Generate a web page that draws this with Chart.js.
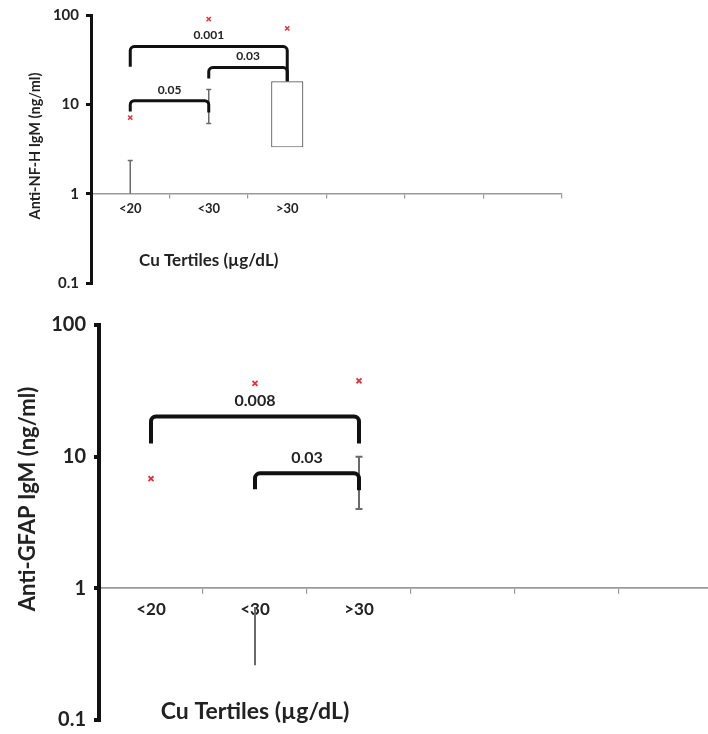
<!DOCTYPE html>
<html>
<head>
<meta charset="utf-8">
<script src="https://cdn.jsdelivr.net/npm/chart.js@4.4.1/dist/chart.umd.min.js"></script>
<style>
  html, body { margin: 0; padding: 0; background: #fff; overflow: hidden; width: 708px; height: 734px; }
  canvas.panel { position: absolute; left: 0; }
  #nfh { top: -10px; }
  #gfap { top: 300px; }
</style>
</head>
<body>
<canvas id="nfh" class="panel" width="600" height="310"></canvas>
<canvas id="gfap" class="panel" width="740" height="450"></canvas>
<script>
// Copper tertile groups (three empty slots follow on the axis)
const categories = ['<20', '<30', '>30', '', '', ''];
const yTicks = [0.1, 1, 10, 100];
const yTickLabels = ['0.1', '1', '10', '100'];
const xTitle = 'Cu Tertiles (µg/dL)';

// Anti-NF-H IgM (ng/ml)
const nfhMarkers = [7.1, 90, 71, null, null, null];
const nfhBoxLow = [null, null, 3.3, null, null, null];
const nfhBoxHigh = [null, null, 18.1, null, null, null];
const nfhWhiskerLow = [1, 6.1, null, null, null, null];
const nfhWhiskerHigh = [2.35, 14.7, null, null, null, null];
const nfhBracketFrom = [0, 1, 0];
const nfhBracketTo = [2, 2, 1];
const nfhBracketTop = [44.3, 25.8, 11];
const nfhBracketLeftEnd = [26.4, 19.4, 8.3];
const nfhBracketRightEnd = [18.1, 18.1, 8.1];
const nfhBracketLabels = ['0.001', '0.03', '0.05'];

// Anti-GFAP IgM (ng/ml)
const gfapMarkers = [6.8, 36, 37.7, null, null, null];
const gfapBoxLow = [null, null, null, null, null, null];
const gfapBoxHigh = [null, null, null, null, null, null];
const gfapWhiskerLow = [null, 0.26, 4.0, null, null, null];
const gfapWhiskerHigh = [null, 0.72, 10, null, null, null];
const gfapBracketFrom = [0, 1];
const gfapBracketTo = [2, 2];
const gfapBracketTop = [20.2, 7.47];
const gfapBracketLeftEnd = [12.6, 5.65];
const gfapBracketRightEnd = [12.6, 5.55];
const gfapBracketLabels = ['0.008', '0.03'];

const FAMILY = "Lato, 'Open Sans', 'DejaVu Sans', sans-serif";
const TEXT = '#222222';

// Whiskers, significance brackets and axis captions drawn on the chart's own scales
function makeExtras(cfg) {
  return {
    id: 'extras_' + cfg.name,
    afterDatasetsDraw(chart) {
      const ctx = chart.ctx;
      const xs = chart.scales.x, ys = chart.scales.y;
      const area = chart.chartArea;
      ctx.save();

      // whiskers
      ctx.strokeStyle = '#6a6a6a';
      ctx.lineWidth = cfg.whiskerWidth;
      cfg.whiskerLow.forEach((lo, i) => {
        const hi = cfg.whiskerHigh[i];
        if (lo == null || hi == null) return;
        const x = xs.getPixelForValue(i);
        const y1 = ys.getPixelForValue(lo), y2 = ys.getPixelForValue(hi);
        ctx.beginPath();
        ctx.moveTo(x, y1); ctx.lineTo(x, y2);
        if (cfg.caps[i]) {
          const c = cfg.capHalf;
          if (lo > 1) { ctx.moveTo(x - c, y1); ctx.lineTo(x + c, y1); }
          ctx.moveTo(x - c, y2); ctx.lineTo(x + c, y2);
        }
        ctx.stroke();
      });

      // brackets with p-values
      ctx.strokeStyle = '#111';
      ctx.lineWidth = cfg.bracketWidth;
      ctx.lineJoin = 'round';
      ctx.fillStyle = TEXT;
      ctx.font = 'bold ' + cfg.pFont + 'px ' + FAMILY;
      ctx.textAlign = 'center';
      ctx.textBaseline = 'middle';
      cfg.bracketFrom.forEach((from, k) => {
        const x1 = xs.getPixelForValue(from);
        const x2 = xs.getPixelForValue(cfg.bracketTo[k]);
        const yt = ys.getPixelForValue(cfg.bracketTop[k]);
        const yl = ys.getPixelForValue(cfg.bracketLeftEnd[k]);
        const yr = ys.getPixelForValue(cfg.bracketRightEnd[k]);
        const r = cfg.bracketRadius;
        ctx.beginPath();
        ctx.moveTo(x1, yl);
        ctx.arcTo(x1, yt, x2, yt, r);
        ctx.arcTo(x2, yt, x2, yr, r);
        ctx.lineTo(x2, yr);
        ctx.stroke();
        ctx.fillText(cfg.bracketLabels[k], (x1 + x2) / 2, yt - cfg.pOffset);
      });

      // x-axis caption, centred under the three groups
      ctx.font = 'bold ' + cfg.xTitleFont + 'px ' + FAMILY;
      const step = xs.getPixelForValue(1) - xs.getPixelForValue(0);
      const xl = xs.getPixelForValue(0) - step / 2;
      const xr = xs.getPixelForValue(2) + step / 2;
      ctx.fillText(xTitle, (xl + xr) / 2, area.bottom - cfg.xTitleLift);

      // y-axis caption
      ctx.font = 'bold ' + cfg.yTitleFont + 'px ' + FAMILY;
      ctx.translate(cfg.yTitleX, area.top + cfg.yTitleDown);
      ctx.rotate(-Math.PI / 2);
      ctx.fillText(cfg.yTitle, 0, 0);
      ctx.restore();
    }
  };
}

function buildPanel(canvasId, cfg) {
  const boxes = categories.map((c, i) =>
    cfg.boxLow[i] == null ? null : [cfg.boxLow[i], cfg.boxHigh[i]]);
  return new Chart(document.getElementById(canvasId), {
    type: 'bar',
    data: {
      labels: categories,
      datasets: [
        {
          type: 'bar',
          data: boxes,
          backgroundColor: '#ffffff',
          borderColor: '#555555',
          borderWidth: 1.2,
          borderSkipped: false,
          barPercentage: cfg.boxWidth,
          categoryPercentage: 1
        },
        {
          type: 'line',
          data: cfg.markers,
          showLine: false,
          pointStyle: 'crossRot',
          pointRadius: cfg.markerRadius,
          pointBorderWidth: cfg.markerWidth,
          pointBorderColor: '#e0323a',
          pointBackgroundColor: '#e0323a'
        }
      ]
    },
    options: {
      responsive: false,
      animation: false,
      events: [],
      layout: { padding: cfg.padding },
      plugins: { legend: { display: false }, tooltip: { enabled: false } },
      scales: {
        x: {
          type: 'category',
          offset: true,
          position: { y: 1 },
          grid: {
            offset: true,
            drawOnChartArea: false,
            tickLength: cfg.xTickLen,
            color: '#9a9a9a',
            lineWidth: 1.2
          },
          border: { display: true, color: '#9a9a9a', width: cfg.xAxisWidth },
          ticks: {
            autoSkip: false,
            maxRotation: 0,
            padding: cfg.xTickPad,
            color: TEXT,
            font: { family: FAMILY, weight: 'bold', size: cfg.xTickFont }
          },
          afterFit(s) { s.height = 0; }
        },
        y: {
          type: 'logarithmic',
          position: 'left',
          min: 0.1,
          max: 100,
          afterBuildTicks(s) { s.ticks = yTicks.map(v => ({ value: v })); },
          ticks: {
            padding: cfg.yTickPad,
            color: TEXT,
            font: { family: FAMILY, weight: 'bold', size: cfg.yTickFont },
            callback: (v) => yTickLabels[yTicks.indexOf(v)]
          },
          grid: {
            drawOnChartArea: false,
            tickLength: 5,
            color: '#111',
            lineWidth: cfg.yAxisWidth
          },
          border: { display: true, color: '#111', width: cfg.yAxisWidth },
          afterFit(s) { s.width = cfg.yAxisBox; }
        }
      }
    },
    plugins: [makeExtras(cfg)]
  });
}

buildPanel('nfh', {
  name: 'nfh',
  markers: nfhMarkers, boxLow: nfhBoxLow, boxHigh: nfhBoxHigh,
  whiskerLow: nfhWhiskerLow, whiskerHigh: nfhWhiskerHigh,
  caps: [true, true, false, false, false, false],
  bracketFrom: nfhBracketFrom, bracketTo: nfhBracketTo, bracketTop: nfhBracketTop,
  bracketLeftEnd: nfhBracketLeftEnd, bracketRightEnd: nfhBracketRightEnd,
  bracketLabels: nfhBracketLabels,
  yTitle: 'Anti-NF-H IgM (ng/ml)',
  padding: { left: 0, top: 25, right: 38, bottom: 17 },
  yAxisBox: 91, yAxisWidth: 3, xAxisWidth: 1.5,
  xTickLen: 4, xTickPad: 3, xTickFont: 13,
  yTickPad: 7, yTickFont: 15,
  boxWidth: 0.41, markerRadius: 3, markerWidth: 1.5,
  whiskerWidth: 1.5, capHalf: 2.5,
  bracketWidth: 3, bracketRadius: 4, pFont: 12, pOffset: 11,
  xTitleFont: 17, xTitleLift: 22,
  yTitleFont: 14.5, yTitleX: 35, yTitleDown: 131
});

buildPanel('gfap', {
  name: 'gfap',
  markers: gfapMarkers, boxLow: gfapBoxLow, boxHigh: gfapBoxHigh,
  whiskerLow: gfapWhiskerLow, whiskerHigh: gfapWhiskerHigh,
  caps: [false, false, true, false, false, false],
  bracketFrom: gfapBracketFrom, bracketTo: gfapBracketTo, bracketTop: gfapBracketTop,
  bracketLeftEnd: gfapBracketLeftEnd, bracketRightEnd: gfapBracketRightEnd,
  bracketLabels: gfapBracketLabels,
  yTitle: 'Anti-GFAP IgM (ng/ml)',
  padding: { left: 0, top: 25, right: 17, bottom: 30 },
  yAxisBox: 99, yAxisWidth: 4, xAxisWidth: 1.8,
  xTickLen: 5, xTickPad: 6, xTickFont: 17,
  yTickPad: 8, yTickFont: 20,
  boxWidth: 0.4, markerRadius: 3.5, markerWidth: 1.8,
  whiskerWidth: 2, capHalf: 3.5,
  bracketWidth: 4, bracketRadius: 5, pFont: 16, pOffset: 16,
  xTitleFont: 23, xTitleLift: 8,
  yTitleFont: 22, yTitleX: 28, yTitleDown: 174
});
</script>
</body>
</html>
